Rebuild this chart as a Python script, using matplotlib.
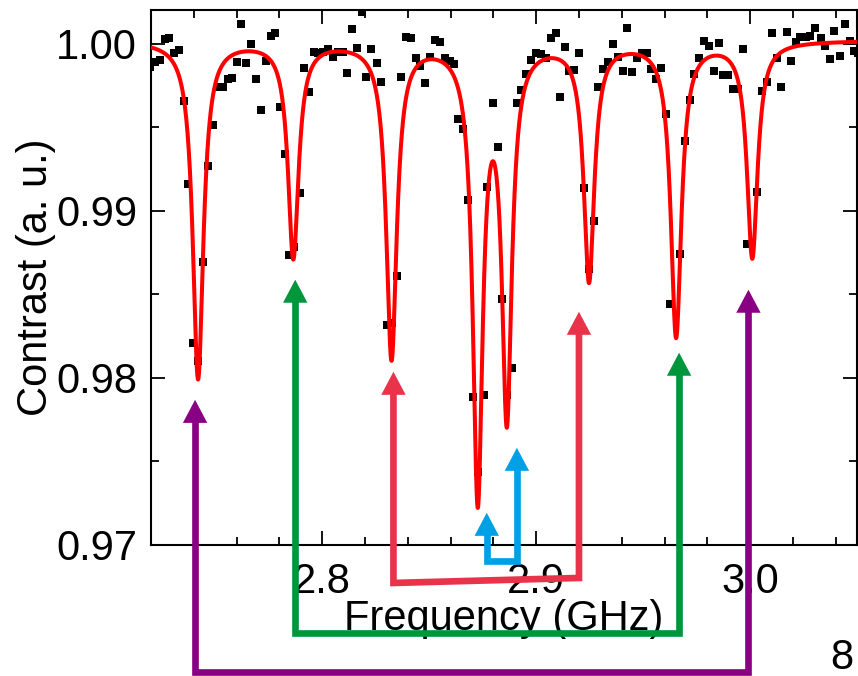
import numpy as np
import matplotlib
matplotlib.use('Agg')
import matplotlib.pyplot as plt
from matplotlib.ticker import MultipleLocator, FormatStrFormatter

plt.rcParams['font.family'] = ['Liberation Sans', 'DejaVu Sans']

# measured ODMR points (GHz, contrast)
freq = [2.7195, 2.7219, 2.7242, 2.7266, 2.7284, 2.7308, 2.7331, 2.7355, 2.7373, 2.7397,
        2.7420, 2.7444, 2.7467, 2.7490, 2.7514, 2.7537, 2.7561, 2.7579, 2.7603, 2.7622,
        2.7645, 2.7668, 2.7692, 2.7715, 2.7739, 2.7762, 2.7781, 2.7804, 2.7828, 2.7846,
        2.7870, 2.7898, 2.7917, 2.7940, 2.7963, 2.7982, 2.8006, 2.8029, 2.8052, 2.8076,
        2.8099, 2.8118, 2.8141, 2.8165, 2.8188, 2.8207, 2.8230, 2.8254, 2.8277, 2.8301,
        2.8324, 2.8348, 2.8366, 2.8390, 2.8413, 2.8437, 2.8455, 2.8479, 2.8502, 2.8526,
        2.8549, 2.8572, 2.8596, 2.8615, 2.8633, 2.8657, 2.8680, 2.8704, 2.8727, 2.8755,
        2.8769, 2.8797, 2.8821, 2.8839, 2.8863, 2.8886, 2.8910, 2.8928, 2.8952, 2.8975,
        2.8999, 2.9022, 2.9045, 2.9069, 2.9092, 2.9111, 2.9134, 2.9153, 2.9177, 2.9200,
        2.9223, 2.9247, 2.9270, 2.9289, 2.9312, 2.9336, 2.9359, 2.9383, 2.9406, 2.9425,
        2.9448, 2.9472, 2.9495, 2.9519, 2.9537, 2.9561, 2.9584, 2.9608, 2.9626, 2.9673,
        2.9697, 2.9720, 2.9739, 2.9762, 2.9785, 2.9809, 2.9832, 2.9856, 2.9874, 2.9898,
        2.9921, 2.9945, 2.9968, 2.9987, 3.0034, 3.0057, 3.0081, 3.0104, 3.0127, 3.0146,
        3.0170, 3.0193, 3.0212, 3.0235, 3.0259, 3.0282, 3.0305, 3.0329, 3.0348, 3.0371,
        3.0394, 3.0418, 3.0441, 3.0465, 3.0483, 3.0502]
contrast = [0.99862, 0.99892, 0.99904, 1.00030, 1.00036, 0.99946, 0.99964, 0.99659, 0.99162, 0.98210,
            0.98102, 0.98695, 0.99269, 0.99515, 0.99743, 0.99743, 0.99790, 0.99796, 0.99892, 1.00120,
            0.99886, 1.00000, 0.99790, 0.99605, 0.99898, 1.00048, 1.00066, 0.99623, 0.99341, 0.98737,
            0.98784, 0.99108, 0.99856, 0.99713, 0.99952, 0.99946, 0.99952, 0.99970, 0.99922, 0.99952,
            0.99952, 0.99826, 1.00090, 0.99976, 1.00186, 0.99802, 0.99970, 0.99886, 0.99772, 0.98317,
            0.98329, 0.98611, 0.99802, 1.00042, 1.00036, 0.99916, 0.99868, 0.99766, 0.99922, 1.00024,
            1.00012, 0.99916, 0.99898, 0.99880, 0.99551, 0.99491, 0.99066, 0.97886, 0.97437, 0.97898,
            0.99144, 0.99647, 0.99383, 0.98473, 0.97898, 0.98060, 0.99647, 0.99725, 0.99820, 0.99904,
            0.99946, 0.99940, 0.99916, 1.00036, 1.00066, 0.99683, 0.99982, 0.99838, 0.99844, 0.99946,
            0.99138, 0.98653, 0.98940, 0.99743, 0.99850, 0.99892, 1.00000, 0.99922, 0.99838, 1.00096,
            0.99832, 0.99916, 0.99946, 0.99946, 0.99850, 0.99790, 0.99856, 0.99581, 0.98443, 0.98743,
            0.99419, 0.99665, 0.99820, 0.99916, 1.00018, 0.99988, 0.99838, 1.00006, 0.99814, 0.99814,
            0.99731, 0.99731, 0.99970, 0.98802, 0.99114, 0.99719, 0.99772, 1.00066, 0.99916, 0.99743,
            1.00072, 0.99898, 1.00012, 1.00042, 1.00042, 1.00048, 1.00096, 1.00036, 0.99988, 0.99910,
            1.00078, 0.99928, 1.00120, 1.00018, 0.99958, 0.99946]

# Lorentzian fit
baseline = 1.0002
dip_centers = [2.7420, 2.7865, 2.8324, 2.8727, 2.8863, 2.9247, 2.9654, 3.0010]
dip_depths = [0.0202, 0.0129, 0.0189, 0.0269, 0.0219, 0.0142, 0.0176, 0.0129]
dip_hwhm = [0.0030, 0.0030, 0.0030, 0.0028, 0.0028, 0.0030, 0.0030, 0.0030]

# paired transitions (bracket arrows)
arrow_colors = ['#8a0082', '#00963c', '#e8334a', '#00a0e6']
arrow_left_x = [2.7406, 2.7874, 2.8333, 2.8769]
arrow_right_x = [2.9992, 2.9668, 2.9200, 2.8910]
arrow_left_tip = [0.97868, 0.98587, 0.98036, 0.97192]
arrow_right_tip = [0.98527, 0.98150, 0.98395, 0.97581]
arrow_bar_left = [0.96240, 0.96473, 0.96772, 0.96904]
arrow_bar_right = [0.96240, 0.96473, 0.96802, 0.96904]

fig = plt.figure(figsize=(8.58, 6.76), dpi=100)
ax = fig.add_axes([0.176, 0.194, 0.823, 0.791])

ax.plot(freq, contrast, 's', color='black', ms=5.5, mew=0, zorder=2)

f_fit = np.linspace(2.72, 3.05, 3000)
c_fit = np.full_like(f_fit, baseline)
for f0, a, g in zip(dip_centers, dip_depths, dip_hwhm):
    c_fit -= a * g**2 / ((f_fit - f0)**2 + g**2)
ax.plot(f_fit, c_fit, color='#ff0000', lw=2.9, zorder=3)

ax.set_xlim(2.72, 3.05)
ax.set_ylim(0.97, 1.002)

# arrows (head size in data units)
hw = 0.0057
hl = 0.00138
for col, lx, rx, lt, rt, bl, br in zip(arrow_colors, arrow_left_x, arrow_right_x,
                                        arrow_left_tip, arrow_right_tip,
                                        arrow_bar_left, arrow_bar_right):
    ax.plot([lx, lx, rx, rx], [lt - hl * 0.9, bl, br, rt - hl * 0.9], color=col,
            lw=4.8, solid_joinstyle='miter', solid_capstyle='butt',
            clip_on=False, zorder=6)
    for x, t in [(lx, lt), (rx, rt)]:
        ax.fill([x - hw, x + hw, x], [t - hl, t - hl, t], color=col,
                lw=0, clip_on=False, zorder=6)

ax.xaxis.set_major_locator(MultipleLocator(0.1))
ax.xaxis.set_minor_locator(MultipleLocator(0.02))
ax.yaxis.set_major_locator(MultipleLocator(0.01))
ax.yaxis.set_minor_locator(MultipleLocator(0.005))
ax.xaxis.set_major_formatter(FormatStrFormatter('%.1f'))
ax.yaxis.set_major_formatter(FormatStrFormatter('%.2f'))

ax.tick_params(which='both', direction='in', top=True, right=True, width=1.3,
               labelsize=30)
ax.tick_params(which='major', length=10)
ax.tick_params(which='minor', length=6)
ax.tick_params(axis='y', pad=10)
ax.tick_params(axis='x', pad=12)
for s in ax.spines.values():
    s.set_linewidth(1.5)

ax.set_xlabel('Frequency (GHz)', fontsize=30, labelpad=-2)
ax.set_ylabel('Contrast (a. u.)', fontsize=30, labelpad=0)

fig.text(0.981, 0.01, '8', fontsize=30, ha='center', va='baseline')

fig.savefig('out.png', dpi=100)
